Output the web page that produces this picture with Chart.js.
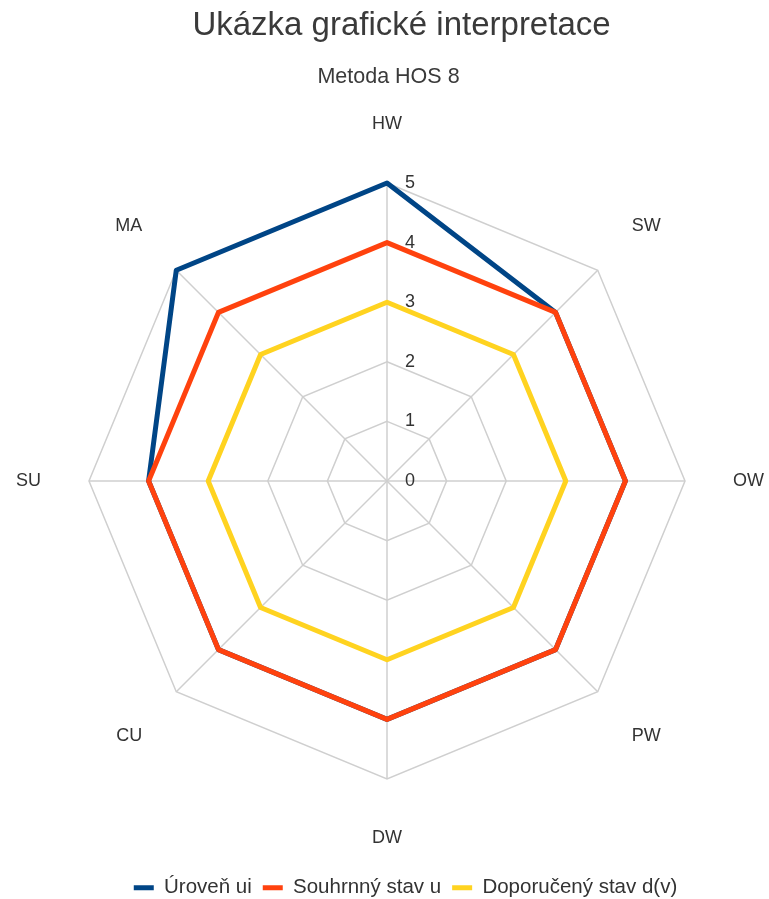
<!DOCTYPE html>
<html>
<head>
<meta charset="utf-8">
<script src="https://cdn.jsdelivr.net/npm/chart.js@4.4.0/dist/chart.umd.min.js"></script>
<style>
    html, body { margin: 0; padding: 0; background: #ffffff; }
    #wrap { width: 769px; height: 899px; }
</style>
</head>
<body>
<div id="wrap"><canvas id="radarChart"></canvas></div>
<script>
// Chart data
const axisLabels = ['HW', 'SW', 'OW', 'PW', 'DW', 'CU', 'SU', 'MA'];
const urovenUi = [5, 4, 4, 4, 4, 4, 4, 5];
const souhrnnyStav = [4, 4, 4, 4, 4, 4, 4, 4];
const doporucenyStav = [3, 3, 3, 3, 3, 3, 3, 3];
const tickValues = [0, 1, 2, 3, 4, 5];

const fontFamily = '"Liberation Sans", Arial, sans-serif';

// tick numbers sit just right of the vertical axis, like in the original
const tickLabelPlugin = {
    id: 'tickLabels',
    beforeDatasetsDraw(chart) {
        const scale = chart.scales.r;
        const ctx = chart.ctx;
        ctx.save();
        ctx.font = '18px ' + fontFamily;
        ctx.fillStyle = '#333333';
        ctx.textAlign = 'center';
        ctx.textBaseline = 'middle';
        tickValues.forEach(v => {
            const d = scale.getDistanceFromCenterForValue(v);
            ctx.fillText(String(v), scale.xCenter + 23, scale.yCenter - d);
        });
        ctx.restore();
    }
};

// the original title and legend are not quite centred; nudge them after layout
const nudgePlugin = {
    id: 'nudge',
    afterLayout(chart) {
        if (chart.titleBlock) {
            chart.titleBlock.left += 28 - 5;
        }
        if (chart.legend) {
            chart.legend.left += 36 - 5;
            chart.legend.top += 11;
            chart.legend.bottom += 11;
        }
        chart.boxes.forEach(box => {
            if (box !== chart.titleBlock && box.options && box.options.text === 'Metoda HOS 8') {
                box.right -= 8 - 5;
            }
        });
    }
};

function createRadarChart(canvasId) {
    const ctx = document.getElementById(canvasId).getContext('2d');
    new Chart(ctx, {
        type: 'radar',
        data: {
            labels: axisLabels,
            datasets: [
                {
                    label: 'Úroveň ui',
                    data: urovenUi,
                    borderColor: '#004586',
                    backgroundColor: '#004586',
                    borderWidth: 5,
                    pointRadius: 0,
                    fill: false,
                    order: 2
                },
                {
                    label: 'Souhrnný stav u',
                    data: souhrnnyStav,
                    borderColor: '#ff420e',
                    backgroundColor: '#ff420e',
                    borderWidth: 5,
                    pointRadius: 0,
                    fill: false,
                    order: 1
                },
                {
                    label: 'Doporučený stav d(v)',
                    data: doporucenyStav,
                    borderColor: '#ffd320',
                    backgroundColor: '#ffd320',
                    borderWidth: 5,
                    pointRadius: 0,
                    fill: false,
                    order: 3
                }
            ]
        },
        options: {
            responsive: true,
            maintainAspectRatio: false,
            animation: false,
            layout: { padding: { left: 13, right: 2, top: 0, bottom: 2 } },
            elements: { line: { tension: 0, borderJoinStyle: 'round' } },
            scales: {
                r: {
                    min: 0,
                    max: 5,
                    ticks: { stepSize: 1, display: false },
                    grid: { color: '#cfcfcf', lineWidth: 1.5 },
                    angleLines: { color: '#cfcfcf', lineWidth: 1.5 },
                    pointLabels: {
                        padding: 48,
                        color: '#333333',
                        font: { family: fontFamily, size: 18 }
                    }
                }
            },
            plugins: {
                title: {
                    display: true,
                    text: 'Ukázka grafické interpretace',
                    color: '#3a3a3a',
                    font: { family: fontFamily, size: 33, weight: 'normal' },
                    padding: { top: 6, bottom: 0 }
                },
                subtitle: {
                    display: true,
                    text: 'Metoda HOS 8',
                    color: '#3a3a3a',
                    font: { family: fontFamily, size: 21.5, weight: 'normal' },
                    padding: { top: 19, bottom: 18 }
                },
                legend: {
                    position: 'bottom',
                    labels: {
                        usePointStyle: true,
                        pointStyle: 'line',
                        pointStyleWidth: 20,
                        color: '#333333',
                        font: { family: fontFamily, size: 20.5 },
                        padding: 11,
                        sort: (a, b) => a.datasetIndex - b.datasetIndex
                    }
                },
                tooltip: { enabled: false }
            }
        },
        plugins: [tickLabelPlugin, nudgePlugin]
    });
}

createRadarChart('radarChart');
</script>
</body>
</html>
